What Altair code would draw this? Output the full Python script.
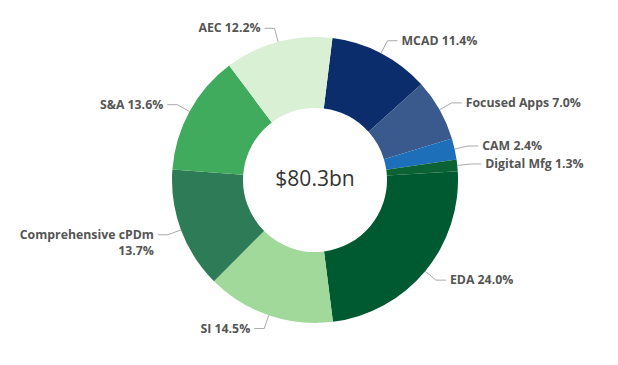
import altair as alt
import numpy as np
import pandas as pd

categories = ["MCAD", "Focused Apps", "CAM", "Digital Mfg", "EDA", "SI",
              "Comprehensive cPDm", "S&A", "AEC"]
values = [11.4, 7.0, 2.4, 1.3, 24.0, 14.5, 13.7, 13.6, 12.2]
labels = ["MCAD 11.4%", "Focused Apps 7.0%", "CAM 2.4%", "Digital Mfg 1.3%",
          "EDA 24.0%", "SI 14.5%", "Comprehensive cPDm\n13.7%", "S&A 13.6%",
          "AEC 12.2%"]
colors = ["#0B2D6B", "#3A5A8D", "#1E6FB9", "#0B6334", "#005A31", "#A1D99B",
          "#2E7B58", "#41AB5D", "#D9F0D4"]
center_text = ["$80.3bn"]

W, H = 600, 345
CX, CY = 307, 172
R_IN, R_OUT = 72, 143
R_ELB = 157
OFF = np.deg2rad(7)

vals = np.array(values)
total = vals.sum()
cum = np.cumsum(vals) - vals / 2
mid = OFF + 2 * np.pi * cum / total

df = pd.DataFrame({"cat": categories, "value": values, "label": labels,
                   "order": range(len(values))})

# leader lines and label anchors derived from the values
rows = []
lab_rows = []
for i, a in enumerate(mid):
    s = 1 if np.sin(a) >= 0 else -1
    ex, ey = R_OUT * np.sin(a), R_OUT * np.cos(a)
    bx, by = R_ELB * np.sin(a), R_ELB * np.cos(a)
    tx = bx + s * 10
    rows += [{"cat": categories[i], "k": 0, "x": ex, "y": ey},
             {"cat": categories[i], "k": 1, "x": bx, "y": by},
             {"cat": categories[i], "k": 2, "x": tx, "y": by}]
    lab_rows.append({"cat": categories[i], "label": labels[i],
                     "x": tx + s * 4, "y": by,
                     "side": "left" if s > 0 else "right"})
lines = pd.DataFrame(rows)
labs = pd.DataFrame(lab_rows)

xs = alt.Scale(domain=[-CX, W - CX], range=[0, W])
ys = alt.Scale(domain=[-(H - CY), CY], range=[H, 0])

arc = alt.Chart(df).mark_arc(innerRadius=R_IN, outerRadius=R_OUT).encode(
    theta=alt.Theta("value:Q", stack=True,
                    scale=alt.Scale(range=[float(OFF), float(OFF + 2 * np.pi)])),
    color=alt.Color("cat:N", scale=alt.Scale(domain=categories, range=colors),
                    legend=None),
    order=alt.Order("order:Q"),
    x=alt.value(CX), y=alt.value(CY),
)

lead = alt.Chart(lines).mark_line(color="#AAAAAA", strokeWidth=1).encode(
    x=alt.X("x:Q", scale=xs, axis=None),
    y=alt.Y("y:Q", scale=ys, axis=None),
    detail="cat:N",
    order="k:Q",
)

lab_l = alt.Chart(labs[labs.side == "left"]).mark_text(
    align="left", baseline="middle", font="Open Sans", fontWeight="bold",
    fontSize=12.3, color="#555555").encode(
    x=alt.X("x:Q", scale=xs, axis=None),
    y=alt.Y("y:Q", scale=ys, axis=None),
    text="label:N",
)
lab_r = alt.Chart(labs[labs.side == "right"]).mark_text(
    align="right", baseline="middle", font="Open Sans", fontWeight="bold",
    fontSize=12.3, color="#555555", lineBreak="\n", lineHeight=16).encode(
    x=alt.X("x:Q", scale=xs, axis=None),
    y=alt.Y("y:Q", scale=ys, axis=None),
    text="label:N",
)

ctr = alt.Chart(pd.DataFrame({"t": center_text})).mark_text(
    align="center", baseline="middle", font="Open Sans", fontSize=21,
    color="#333333").encode(
    x=alt.value(CX), y=alt.value(CY), text="t:N")

chart = alt.layer(arc, lead, lab_l, lab_r, ctr).properties(
    width=W, height=H, padding=0, autosize="none"
).configure_view(stroke=None)

chart.save("out.html", embed_options={"renderer": "svg", "actions": False})
